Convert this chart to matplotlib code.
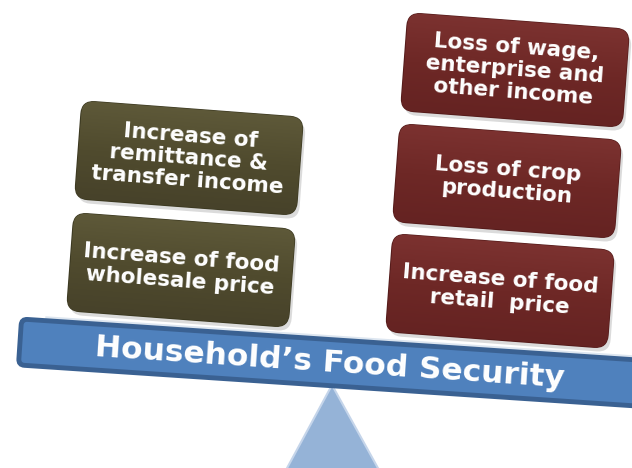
import matplotlib
matplotlib.use("Agg")
import matplotlib.pyplot as plt
import numpy as np
from matplotlib.patches import FancyBboxPatch, Polygon
from matplotlib.transforms import Affine2D
from matplotlib.colors import LinearSegmentedColormap

# texts of the diagram
left_labels = ["Increase of\nremittance &\ntransfer income",
               "Increase of food\nwholesale price"]
right_labels = ["Loss of wage,\nenterprise and\nother income",
                "Loss of crop\nproduction",
                "Increase of food\nretail  price"]
title = "Household\u2019s Food Security"

fig = plt.figure(figsize=(6.32, 4.68), dpi=100)
ax = fig.add_axes([0, 0, 1, 1])
ax.set_xlim(0, 632)
ax.set_ylim(468, 0)
ax.axis("off")

tilt = 4.3
bw, bh = 222, 98


def box(cx, cy, label, cols, edge):
    tr = Affine2D().rotate_deg_around(cx, cy, tilt) + ax.transData
    sh = FancyBboxPatch((cx - bw / 2 + 3, cy - bh / 2 + 4), bw, bh,
                        boxstyle="round,pad=0,rounding_size=13",
                        fc="#999999", ec="none", alpha=0.35, transform=tr, zorder=2)
    ax.add_patch(sh)
    p = FancyBboxPatch((cx - bw / 2, cy - bh / 2), bw, bh,
                       boxstyle="round,pad=0,rounding_size=13",
                       fc=cols[1], ec=edge, lw=1, transform=tr, zorder=3)
    ax.add_patch(p)
    grad = np.linspace(0, 1, 200).reshape(-1, 1)
    cmap = LinearSegmentedColormap.from_list("g", cols)
    im = ax.imshow(grad, extent=(cx - bw / 2, cx + bw / 2, cy + bh / 2, cy - bh / 2),
                   cmap=cmap, aspect="auto", interpolation="bilinear", zorder=3.5)
    im.set_transform(tr)
    im.set_clip_path(p)
    ax.text(cx, cy, label, ha="center", va="center", rotation=-tilt,
            rotation_mode="anchor", color="white", fontsize=15.5,
            fontweight="bold", family="DejaVu Sans", linespacing=1.15, zorder=5)


# fulcrum
ax.add_patch(Polygon([(332, 385), (286, 470), (379, 470)], closed=True,
                     fc="#95B3D7", ec="#c5d5ea", lw=1.5, zorder=1))

# beam
btilt = 3.8
btr = Affine2D().rotate_deg_around(20, 342, btilt) + ax.transData
ax.plot([45, 640], [316, 316], color="#dde6f0", lw=2, transform=btr, zorder=1.5)
ax.add_patch(FancyBboxPatch((20, 319), 660, 46,
                            boxstyle="round,pad=0,rounding_size=6",
                            fc="#4F81BD", ec="#3A6192", lw=3.5,
                            transform=btr, zorder=4))
ax.text(330, 363, title, ha="center", va="center", rotation=-btilt,
        rotation_mode="anchor", color="white", fontsize=22.5,
        fontweight="bold", family="DejaVu Sans", zorder=6)

left_centers = [(189, 158), (181, 270)]
right_centers = [(515, 70), (507, 181), (500, 291)]
olive = ["#5e5939", "#504b2e", "#47422a"]
maroon = ["#7c3230", "#6e2826", "#652322"]

for (cx, cy), lab in zip(left_centers, left_labels):
    box(cx, cy, lab, olive, "#3d3a22")
for (cx, cy), lab in zip(right_centers, right_labels):
    box(cx, cy, lab, maroon, "#561c1b")

fig.savefig("out.png", dpi=100)
